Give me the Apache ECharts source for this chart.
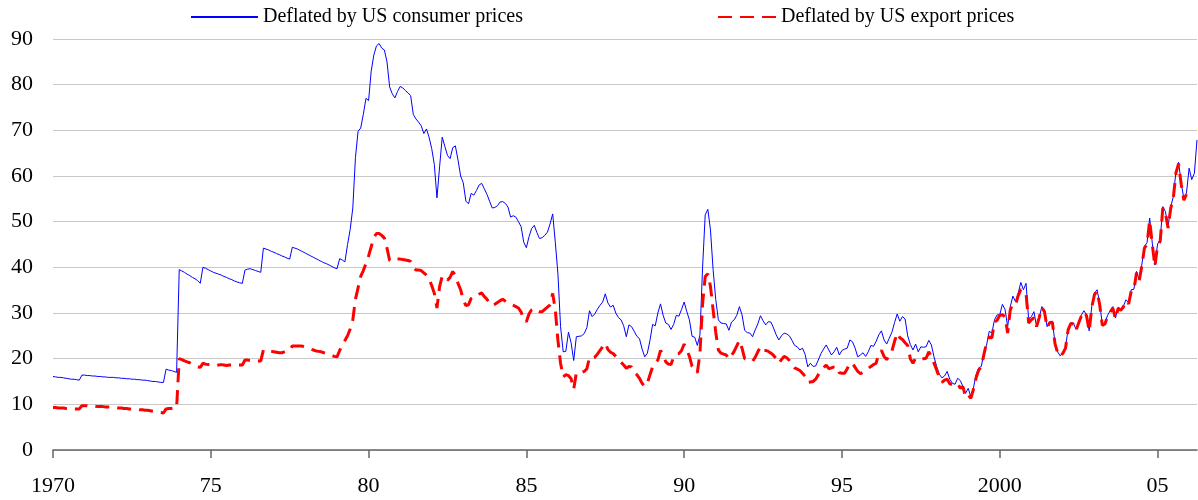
<!DOCTYPE html>
<html>
<head>
<meta charset="utf-8">
<title>Oil price deflated</title>
<script src="https://cdn.jsdelivr.net/npm/echarts@6.0.0/dist/echarts.min.js"></script>
<style>
  html, body { margin: 0; padding: 0; background: #fff; }
  #chart { width: 1198px; height: 500px; }
</style>
</head>
<body>
<div id="chart"></div>
<script>
// monthly values, starting January 1970
const startYear = 1970

// deflated by US consumer prices
const consumerPrices = [
  16.1, 16.0, 15.9, 15.9, 15.8, 15.7, 15.6, 15.5, 15.5, 15.4, 15.3, 16.4,
  16.4, 16.3, 16.3, 16.2, 16.2, 16.1, 16.1, 16.0, 16.0, 15.9, 15.9, 15.9,
  15.8, 15.8, 15.7, 15.7, 15.6, 15.6, 15.5, 15.5, 15.4, 15.4, 15.3, 15.3,
  15.2, 15.1, 15.0, 15.0, 14.9, 14.8, 14.8, 17.7, 17.5, 17.4, 17.2, 17.0,
  39.5, 39.2, 38.9, 38.5, 38.2, 37.8, 37.5, 37.1, 36.5, 40.0, 39.8, 39.5,
  39.2, 38.9, 38.7, 38.5, 38.3, 38.0, 37.8, 37.5, 37.3, 37.0, 36.8, 36.6,
  36.5, 39.4, 39.6, 39.7, 39.5, 39.3, 39.1, 38.9, 44.2, 44.0, 43.8, 43.5,
  43.3, 43.0, 42.8, 42.5, 42.3, 42.0, 41.8, 44.4, 44.2, 44.0, 43.7, 43.4,
  43.1, 42.8, 42.5, 42.2, 41.9, 41.6, 41.3, 41.0, 40.8, 40.5, 40.2, 39.9,
  39.7, 41.9, 41.6, 41.2, 45.0, 48.3, 53.0, 64.0, 69.8, 70.5, 73.5, 77.0,
  76.5, 83.0, 86.5, 88.5, 89.0, 88.0, 87.6, 85.0, 79.5, 78.0, 77.1, 78.5,
  79.6, 79.3, 78.7, 78.2, 77.6, 73.5, 72.5, 71.8, 71.0, 69.3, 70.3, 68.5,
  66.0, 62.5, 55.2, 62.0, 68.5, 66.5, 64.5, 63.8, 66.2, 66.6, 63.5, 60.0,
  58.5, 54.5, 53.9, 56.2, 55.8, 56.8, 58.0, 58.4, 57.2, 56.0, 54.5, 53.0,
  53.1, 53.5, 54.3, 54.4, 54.0, 53.2, 51.0, 51.3, 51.0, 50.0, 48.9, 45.5,
  44.3, 46.7, 48.5, 49.2, 47.6, 46.3, 46.5, 47.0, 47.7, 49.5, 51.7, 45.5,
  38.5, 27.0, 21.5, 21.6, 25.8, 23.5, 19.6, 24.8, 24.9, 25.0, 25.5, 26.8,
  30.5, 29.2, 29.8, 30.8, 31.7, 32.4, 34.2, 32.2, 31.3, 31.7, 30.0, 29.0,
  28.5, 27.2, 24.8, 27.4, 27.0, 26.0, 24.9, 24.4, 22.1, 20.4, 21.2, 24.0,
  27.5, 27.2, 30.0, 32.0, 29.5, 27.8, 27.5, 26.4, 27.5, 29.5, 29.3, 30.8,
  32.4, 30.3, 28.5, 24.9, 24.7, 22.9, 25.2, 40.0, 51.5, 52.7, 48.2, 39.5,
  33.0, 28.5, 27.8, 27.7, 27.6, 26.2, 28.0, 28.5, 29.5, 31.4, 29.6, 26.2,
  25.7, 25.6, 24.8, 26.3, 27.6, 29.4, 28.3, 27.4, 28.1, 28.0, 26.7, 25.2,
  24.1, 25.0, 25.6, 25.4, 25.0, 24.0, 22.9, 22.6, 21.9, 22.3, 20.9, 18.2,
  19.0, 18.3, 18.4, 19.7, 21.1, 22.1, 23.0, 21.9, 20.8, 21.5, 22.5, 20.8,
  21.8, 22.1, 22.3, 24.1, 23.7, 22.3, 20.4, 20.8, 21.3, 20.5, 21.5, 22.9,
  22.7, 23.8, 25.2, 26.1, 24.1, 23.2, 24.5, 25.8, 27.9, 29.8, 28.2, 29.2,
  28.7, 25.0, 23.1, 21.9, 23.2, 21.5, 22.6, 22.5, 22.6, 24.0, 23.0, 20.4,
  18.3, 16.6, 15.8, 16.2, 17.2, 15.5, 14.6, 14.4, 15.7, 15.2, 13.9, 12.4,
  13.5, 11.7, 13.6, 16.5, 18.0, 18.3, 21.5, 23.0, 26.0, 25.6, 28.5, 29.6,
  29.6, 31.9, 30.8, 27.0, 31.4, 33.7, 32.5, 34.3, 36.7, 35.1, 36.5, 28.5,
  29.2, 30.3, 27.0, 29.0, 31.4, 30.5, 27.0, 28.0, 28.2, 23.5, 21.5, 20.6,
  21.3, 22.5, 26.5, 27.8, 27.8, 26.4, 28.0, 29.5, 30.5, 29.6, 26.1, 31.5,
  34.3, 35.1, 32.1, 27.5, 27.8, 29.5, 30.5, 31.4, 28.9, 31.3, 30.8, 31.5,
  32.9, 32.3, 35.1, 35.2, 39.1, 37.3, 40.5, 44.6, 45.4, 50.8, 45.3, 40.5,
  45.1, 46.0, 53.3, 52.2, 48.9, 53.2, 55.5, 61.0, 63.0, 58.5, 55.0, 56.3,
  61.7, 59.2, 60.6, 67.9
]

// deflated by US export prices
const exportPrices = [
  9.3, 9.3, 9.2, 9.2, 9.2, 9.1, 9.1, 9.1, 9.0, 9.0, 9.0, 9.7,
  9.7, 9.7, 9.6, 9.6, 9.6, 9.5, 9.5, 9.5, 9.4, 9.4, 9.4, 9.3,
  9.3, 9.2, 9.2, 9.1, 9.1, 9.0, 9.0, 8.9, 8.9, 8.8, 8.8, 8.7,
  8.7, 8.6, 8.5, 8.4, 8.3, 8.2, 8.1, 9.0, 9.1, 9.1, 9.2, 9.2,
  20.0, 19.8, 19.5, 19.3, 19.1, 18.8, 18.5, 18.2, 18.1, 19.0, 18.8, 18.7,
  18.7, 18.6, 18.5, 18.6, 18.7, 18.6, 18.5, 18.6, 18.6, 18.5, 18.6, 18.6,
  18.6, 19.7, 19.7, 19.6, 19.6, 19.5, 19.5, 19.5, 21.9, 21.8, 21.7, 21.6,
  21.5, 21.4, 21.3, 21.3, 21.5, 21.7, 21.8, 22.8, 22.8, 22.8, 22.8, 22.7,
  22.5, 22.3, 22.1, 21.9, 21.7, 21.6, 21.5, 21.3, 21.1, 20.9, 20.7, 20.5,
  20.4, 21.8, 23.0, 24.0, 25.0, 26.5, 28.5, 33.0, 35.5, 38.0, 39.3, 40.8,
  42.5, 44.5, 46.5, 47.4, 47.4, 47.0, 46.4, 44.2, 41.5, 41.4, 41.6, 41.8,
  41.8, 41.7, 41.6, 41.5, 41.3, 40.0, 39.4, 39.4, 39.3, 38.8, 38.3, 37.5,
  36.0, 34.3, 31.1, 35.8, 38.1, 37.9, 37.2, 37.8, 39.1, 38.2, 36.5, 35.1,
  32.9, 31.6, 31.8, 33.2, 33.6, 33.6, 34.1, 34.4, 33.6, 33.0, 32.2, 31.6,
  31.9, 32.3, 32.7, 33.0, 32.6, 32.2, 31.9, 31.7, 31.4, 31.1, 30.2, 28.6,
  28.1, 29.8, 30.7, 31.0, 30.6, 30.3, 30.3, 30.8, 31.3, 31.8, 34.3, 30.7,
  24.0, 19.0, 16.0, 16.5, 16.3, 15.6, 13.3, 16.9, 16.9, 17.0, 17.2, 17.8,
  20.3, 20.1, 20.3, 21.0, 21.8, 22.6, 23.4, 22.0, 21.4, 21.1, 20.5, 19.8,
  19.2, 18.6, 17.9, 18.3, 18.2, 17.0, 16.5, 15.7, 14.6, 13.9, 14.6, 16.5,
  18.2, 19.2, 19.7, 21.8, 20.9, 19.3, 18.8, 18.7, 20.4, 21.0, 21.1, 21.8,
  23.2, 21.9, 20.5, 18.3, 17.9, 16.9, 21.2, 32.0, 38.0, 38.6, 35.8, 30.7,
  25.8, 21.9, 21.2, 21.0, 20.8, 19.9, 20.7, 21.6, 22.8, 24.0, 22.3, 20.0,
  19.8, 19.6, 19.4, 20.3, 21.5, 22.6, 21.8, 21.8, 21.6, 21.2, 20.7, 20.0,
  19.0, 19.8, 20.5, 20.2, 19.6, 18.8, 18.0, 17.7, 17.4, 16.8, 16.1, 14.8,
  14.9, 15.0, 15.5, 16.5, 17.4, 18.0, 18.6, 17.8, 18.0, 18.2, 18.3, 16.9,
  16.8, 16.8, 17.8, 19.0, 19.0, 18.1, 17.2, 16.7, 17.0, 17.5, 17.9, 18.3,
  18.7, 19.0, 21.2, 21.8, 20.5, 19.8, 20.7, 21.7, 23.8, 25.6, 24.6, 24.2,
  23.5, 22.9, 20.0, 19.0, 20.1, 19.9, 19.9, 20.0, 20.1, 21.5, 20.5, 19.0,
  17.5, 15.9, 14.8, 15.3, 15.5, 14.5, 14.3, 14.4, 14.6, 13.5, 13.9, 11.6,
  12.1, 11.3, 13.3, 15.8, 17.5, 18.2, 21.0, 23.5, 24.8, 24.5, 28.0, 28.4,
  29.5, 29.6, 29.2, 25.6, 30.7, 32.0, 31.8, 33.8, 35.1, 34.9, 34.2, 27.8,
  28.5, 29.0, 27.0, 29.0, 31.2, 30.3, 26.8, 27.9, 28.0, 23.3, 21.3, 20.5,
  21.2, 22.3, 26.3, 27.7, 27.6, 26.2, 27.8, 29.3, 30.3, 29.4, 26.0, 31.3,
  34.0, 34.8, 31.8, 27.3, 27.6, 29.3, 30.2, 31.1, 28.7, 31.0, 30.6, 31.3,
  32.7, 32.0, 34.8, 35.0, 38.8, 37.0, 40.2, 44.2, 45.0, 50.3, 45.0, 40.2,
  44.8, 45.7, 53.0, 51.9, 48.6, 52.9, 55.2, 60.7, 62.7, 58.2, 54.7, 56.0,
  null, null, null, null
]

// x axis tick marks and their labels
const xTicks = [1970, 1975, 1980, 1985, 1990, 1995, 2000, 2005]
const xTickLabels = ['1970', '75', '80', '85', '90', '95', '2000', '05']

const seriesNames = ['Deflated by US consumer prices', 'Deflated by US export prices']

// turn monthly values into [year, value] pairs
function toPairs (values) {
  return values.map(function (v, i) {
    return [startYear + i / 12, v]
  })
}

const serifFont = '"Liberation Serif", "Times New Roman", serif'
const legendText = { fontFamily: serifFont, fontSize: 20, color: '#000' }
const chart = echarts.init(document.getElementById('chart'))

chart.setOption({
  animation: false,
  grid: {
    left: 53,
    right: 1,
    top: 39,
    bottom: 50
  },
  // two legends, because the two keys have different line lengths
  legend: [
    {
      data: [seriesNames[0]],
      left: 190,
      top: 7,
      padding: 0,
      itemWidth: 67,
      itemHeight: 14,
      itemStyle: { opacity: 0 },
      textStyle: legendText
    },
    {
      data: [seriesNames[1]],
      left: 717,
      top: 7,
      padding: 0,
      itemWidth: 58,
      itemHeight: 14,
      itemStyle: { opacity: 0 },
      textStyle: legendText
    }
  ],
  xAxis: {
    type: 'value',
    min: startYear,
    max: startYear + (consumerPrices.length - 1) / 12,
    interval: 5,
    splitLine: { show: false },
    axisLine: { lineStyle: { color: '#666', width: 1.5 } },
    axisTick: {
      customValues: xTicks,
      length: 8,
      lineStyle: { color: '#666', width: 1.5 }
    },
    axisLabel: {
      customValues: xTicks,
      margin: 25,
      fontFamily: serifFont,
      fontSize: 22,
      color: '#000',
      formatter: function (v) {
        const k = xTicks.indexOf(Math.round(v))
        return k >= 0 ? xTickLabels[k] : ''
      }
    }
  },
  yAxis: {
    type: 'value',
    min: 0,
    max: 90,
    interval: 10,
    axisLine: { show: false },
    axisTick: { show: false },
    splitLine: { lineStyle: { color: '#c8c8c8', width: 1 } },
    axisLabel: {
      margin: 20,
      fontFamily: serifFont,
      fontSize: 22,
      color: '#000'
    }
  },
  series: [
    {
      name: seriesNames[0],
      type: 'line',
      symbol: 'none',
      data: toPairs(consumerPrices),
      lineStyle: { color: '#0000ff', width: 1 },
      itemStyle: { color: '#0000ff' }
    },
    {
      name: seriesNames[1],
      type: 'line',
      symbol: 'none',
      data: toPairs(exportPrices),
      lineStyle: { color: '#ff0000', width: 3, type: [14, 8] },
      itemStyle: { color: '#ff0000' }
    }
  ]
})
</script>
</body>
</html>
